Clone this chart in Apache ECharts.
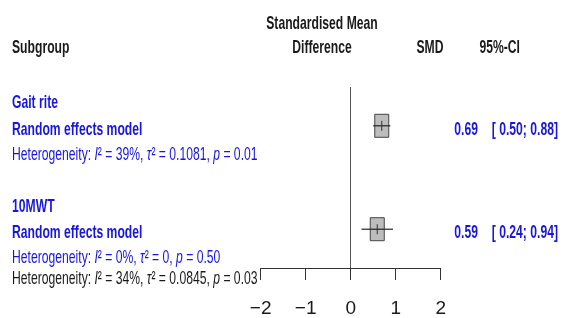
<!DOCTYPE html>
<html>
<head>
<meta charset="utf-8">
<script src="https://cdn.jsdelivr.net/npm/echarts@6/dist/echarts.min.js"></script>
<style>
  html, body { margin: 0; padding: 0; background: #fff; }
  #main { width: 568px; height: 318px; }
</style>
</head>
<body>
<div id="main"></div>
<script>
  // subgroup data
  const groups = ['Gait rite', '10MWT']
  const smd = [0.69, 0.59]
  const ciLow = [0.50, 0.24]
  const ciHigh = [0.88, 0.94]
  const hetI2 = ['39%', '0%']
  const hetTau2 = ['0.1081', '0']
  const hetP = ['0.01', '0.50']
  // overall heterogeneity
  const totalHet = ['34%', '0.0845', '0.03']
  const xTicks = [-2, -1, 0, 1, 2]

  const FONT = '"Liberation Sans", Arial, sans-serif'
  const BLUE = '#1616e0'
  const BLACK = '#1a1a1a'
  const SX = 0.64 // narrow, tall lettering of the original

  // rows: group name, random effects model, heterogeneity
  const rowOf = (i, k) => 1 + i * 4 + k

  const chart = echarts.init(document.getElementById('main'))

  const boxData = groups.map((g, i) => [smd[i], rowOf(i, 1), ciLow[i], ciHigh[i]])

  chart.setOption({
    animation: false,
    grid: { left: 260.7, width: 180, top: 87, height: 182 },
    xAxis: {
      type: 'value',
      min: xTicks[0],
      max: xTicks[xTicks.length - 1],
      interval: 1,
      splitLine: { show: false },
      axisLine: { show: true, onZero: false, lineStyle: { color: '#333', width: 1 } },
      axisTick: { show: true, length: 12, lineStyle: { color: '#333' } },
      axisLabel: {
        margin: 31,
        fontFamily: FONT,
        fontSize: 19,
        color: BLACK,
        formatter: v => (v < 0 ? '\u2212' + Math.abs(v) : String(v))
      }
    },
    yAxis: {
      type: 'value',
      inverse: true,
      min: 0.5,
      max: 7.5,
      show: false
    },
    series: [{
      type: 'custom',
      data: boxData,
      clip: false,
      renderItem: (params, api) => {
        const c = api.coord([api.value(0), api.value(1)])
        const lo = api.coord([api.value(2), api.value(1)])
        const hi = api.coord([api.value(3), api.value(1)])
        const w = 14, h = 23
        return {
          type: 'group',
          children: [
            {
              type: 'rect',
              shape: { x: c[0] - w / 2, y: c[1] - h / 2, width: w, height: h },
              style: { fill: '#bdbdbd', stroke: '#444', lineWidth: 1 }
            },
            {
              type: 'line',
              shape: { x1: lo[0], y1: c[1], x2: hi[0], y2: c[1] },
              style: { stroke: '#222', lineWidth: 1.2 }
            },
            {
              type: 'line',
              shape: { x1: c[0], y1: c[1] - 5, x2: c[0], y2: c[1] + 5 },
              style: { stroke: '#333', lineWidth: 1 }
            }
          ]
        }
      },
      markLine: {
        silent: true,
        symbol: 'none',
        label: { show: false },
        lineStyle: { color: '#555', width: 1, type: 'solid' },
        data: [{ xAxis: 0 }]
      }
    }]
  })

  const rowY = r => chart.convertToPixel({ yAxisIndex: 0 }, r)

  const hetRich = {
    i: { fontFamily: FONT, fontSize: 19, fontStyle: 'italic' }
  }
  const hetText = (i2, tau2, p) =>
    'Heterogeneity: {i|I}²' + ' = ' + i2 + ', {i|τ}² = ' + tau2 + ', {i|p} = ' + p

  const texts = []
  const txt = (x, y, text, opt) => texts.push({
    type: 'text', x: x, y: y, scaleX: SX,
    style: Object.assign({
      text: text, fontFamily: FONT, fontSize: 19, fill: BLACK,
      verticalAlign: 'middle', align: 'left'
    }, opt)
  })

  // header
  txt(12, 48, 'Subgroup', { fontWeight: 'bold' })
  txt(322, 24, 'Standardised Mean', { fontWeight: 'bold', align: 'center' })
  txt(322, 48, 'Difference', { fontWeight: 'bold', align: 'center' })
  txt(430, 48, 'SMD', { fontWeight: 'bold', align: 'center' })
  txt(520, 48, '95%-CI', { fontWeight: 'bold', align: 'right' })

  groups.forEach((g, i) => {
    txt(12, rowY(rowOf(i, 0)) + 3, g, { fontWeight: 'bold', fill: BLUE })
    const yr = rowY(rowOf(i, 1)) + 4
    txt(12, yr, 'Random effects model', { fontWeight: 'bold', fill: BLUE })
    txt(478, yr, smd[i].toFixed(2), { fontWeight: 'bold', fill: BLUE, align: 'right' })
    txt(558, yr, '[ ' + ciLow[i].toFixed(2) + '; ' + ciHigh[i].toFixed(2) + ']',
      { fontWeight: 'bold', fill: BLUE, align: 'right' })
    txt(12, rowY(rowOf(i, 2)) + 3, hetText(hetI2[i], hetTau2[i], hetP[i]),
      { fill: BLUE, rich: hetRich })
  })
  txt(12, rowY(7.8) + 3, hetText(totalHet[0], totalHet[1], totalHet[2]),
    { fill: BLACK, rich: hetRich })

  chart.setOption({ graphic: texts })
</script>
</body>
</html>
